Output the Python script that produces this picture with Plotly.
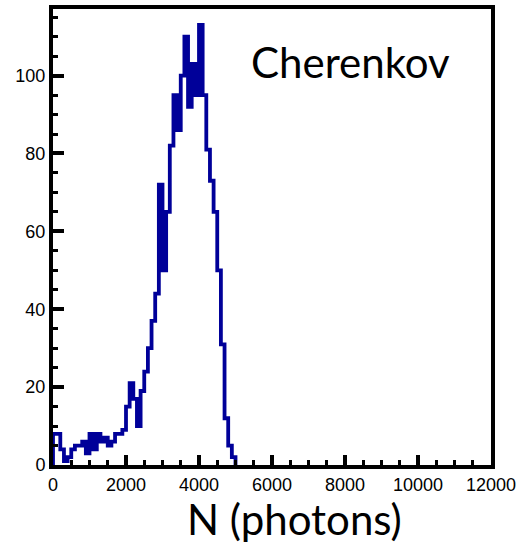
import plotly.graph_objects as go

# Histogram: 100-photon bins starting at 0
bin_width = 100
counts = [
    8, 8, 4, 1, 2, 4, 5, 5, 6, 3,
    8, 4, 8, 6, 7, 5, 6, 8, 8, 9,
    15, 21, 17, 10, 19, 24, 30, 37, 44, 72,
    50, 65, 82, 95, 86, 100, 110, 92, 103, 95,
    113, 95, 81, 73, 65, 50, 31, 12, 5, 2,
]
x_tickvals = [0, 2000, 4000, 6000, 8000, 10000, 12000]
x_ticktext = ["0", "2000", "4000", "6000", "8000", "10000", "12000"]
y_tickvals = [0, 20, 40, 60, 80, 100]
y_ticktext = ["0", "20", "40", "60", "80", "100"]

edges = [i * bin_width for i in range(len(counts) + 1)]
xs = [edges[0]] + edges
ys = [0] + counts + [0]

fig = go.Figure()
fig.add_trace(go.Scatter(
    x=xs, y=ys, mode="lines", line=dict(color="#000099", width=3.8, shape="hv"),
    hoverinfo="skip", showlegend=False,
))

axis_common = dict(
    showline=True, linecolor="black", linewidth=4, mirror=True, automargin=False,
    showgrid=False, zeroline=False, ticks="inside", tickcolor="black",
    tickwidth=3.5, tickfont=dict(family="Liberation Sans, Arial", size=18, color="black"),
)
fig.update_xaxes(range=[0, 12000], tickvals=x_tickvals, ticktext=x_ticktext, ticklen=10,
                 minor=dict(dtick=500, ticks="inside", ticklen=5, tickwidth=3, tickcolor="black"),
                 **axis_common)
fig.update_yaxes(range=[0, 117.1], tickvals=y_tickvals, ticktext=y_ticktext, ticklen=11,
                 minor=dict(dtick=5, ticks="inside", ticklen=5, tickwidth=3, tickcolor="black"),
                 **axis_common)

fig.add_annotation(text="Cherenkov", xref="paper", yref="paper", x=0.45, y=0.884,
                   xanchor="left", yanchor="middle", showarrow=False, borderpad=0,
                   font=dict(family="Lato", size=42, color="black"))
fig.add_annotation(text="N (photons)", xref="paper", yref="paper", x=0.552, y=-0.118,
                   xanchor="center", yanchor="middle", showarrow=False, borderpad=0,
                   font=dict(family="Lato", size=42, color="black"))

fig.update_layout(
    width=526, height=550, margin=dict(l=53, r=35, t=9, b=85),
    paper_bgcolor="white", plot_bgcolor="white",
)
fig.write_html("out.html", config={"displayModeBar": False},
               post_script="document.body.style.margin='0';")
